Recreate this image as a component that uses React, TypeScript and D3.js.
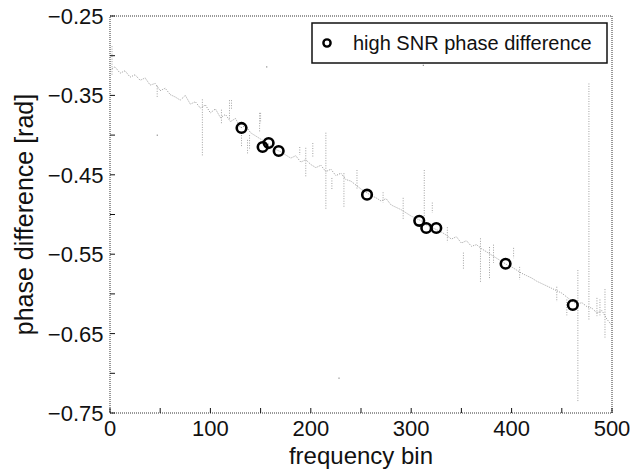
import * as d3 from 'd3'
import { useMemo } from 'react'

// base phase-difference trace, one value every 5 frequency bins (0..500)
const traceBins = d3.range(0, 501, 5)
const traceValues = [
  -0.318, -0.314, -0.322, -0.319, -0.327, -0.324, -0.331, -0.328, -0.337, -0.335,
  -0.344, -0.341, -0.349, -0.352, -0.356, -0.350, -0.361, -0.358, -0.366, -0.362,
  -0.372, -0.367, -0.378, -0.374, -0.383, -0.379, -0.391, -0.388, -0.397, -0.401,
  -0.405, -0.409, -0.413, -0.418, -0.421, -0.425, -0.429, -0.426, -0.434, -0.431,
  -0.437, -0.441, -0.438, -0.446, -0.443, -0.451, -0.448, -0.456, -0.458, -0.463,
  -0.468, -0.472, -0.476, -0.479, -0.483, -0.480, -0.488, -0.491, -0.494, -0.498,
  -0.502, -0.505, -0.508, -0.513, -0.516, -0.519, -0.522, -0.526, -0.531, -0.528,
  -0.536, -0.533, -0.540, -0.538, -0.543, -0.547, -0.551, -0.555, -0.559, -0.563,
  -0.566, -0.570, -0.574, -0.577, -0.580, -0.584, -0.587, -0.590, -0.593, -0.596,
  -0.599, -0.604, -0.609, -0.613, -0.611, -0.616, -0.618, -0.624, -0.621, -0.632,
  -0.640,
]

// noisy single-bin excursions: bin, upper value, lower value
const spikeBins = [2, 47, 92, 111, 119, 121, 131, 137, 139, 149, 150, 189, 195, 202, 215, 221, 233, 246, 272, 292, 313, 321, 336, 352, 369, 378, 382, 402, 408, 445, 455, 466, 477, 485, 488, 493]
const spikeHigh = [-0.288, -0.338, -0.355, -0.368, -0.356, -0.356, -0.400, -0.406, -0.400, -0.372, -0.372, -0.415, -0.416, -0.410, -0.397, -0.454, -0.448, -0.444, -0.472, -0.479, -0.444, -0.485, -0.516, -0.548, -0.530, -0.541, -0.538, -0.542, -0.566, -0.591, -0.607, -0.570, -0.335, -0.605, -0.607, -0.594]
const spikeLow = [-0.325, -0.352, -0.427, -0.385, -0.381, -0.368, -0.415, -0.423, -0.419, -0.397, -0.385, -0.425, -0.453, -0.428, -0.494, -0.469, -0.492, -0.469, -0.485, -0.507, -0.514, -0.498, -0.535, -0.570, -0.586, -0.582, -0.561, -0.555, -0.582, -0.610, -0.627, -0.736, -0.633, -0.628, -0.627, -0.655]

// stray isolated samples
const strayBins = [47, 156, 228, 312]
const strayValues = [-0.4, -0.314, -0.706, -0.312]

// high SNR bins
const snrBins = [131, 152, 158, 168, 256, 308, 315, 325, 394, 461]
const snrValues = [-0.391, -0.415, -0.41, -0.42, -0.475, -0.508, -0.517, -0.517, -0.562, -0.614]

const xTickValues = d3.range(0, 501, 50)
const yTickValues = d3.range(-0.75, -0.2499, 0.05)
const legendLabel = 'high SNR phase difference'

const W = 644
const H = 474
const left = 110
const right = 612
const top = 16
const bottom = 413
const font = '"Liberation Sans", Arial, sans-serif'

export default function App() {
  const { x, y, tracePath } = useMemo(() => {
    const x = d3.scaleLinear().domain([0, 500]).range([left, right])
    const y = d3.scaleLinear().domain([-0.75, -0.25]).range([bottom, top])
    const line = d3
      .line<number>()
      .x((_, i) => x(traceBins[i]))
      .y(d => y(d))
    return { x, y, tracePath: line(traceValues) }
  }, [])

  const fmt = d3.format('.2f')

  return (
    <svg
      width={W}
      height={H}
      style={{ position: 'fixed', left: 0, top: 0, background: '#fff' }}
      fontFamily={font}
    >
      {/* noisy trace */}
      <path
        d={tracePath ?? ''}
        fill="none"
        stroke="#999"
        strokeWidth={1}
        strokeDasharray="1 1.3"
      />
      {spikeBins.map((b, i) => (
        <line
          key={'s' + i}
          x1={x(b)}
          x2={x(b)}
          y1={y(spikeHigh[i])}
          y2={y(spikeLow[i])}
          stroke="#a0a0a0"
          strokeWidth={1}
          strokeDasharray="1 1.5"
        />
      ))}
      {strayBins.map((b, i) => (
        <rect key={'d' + i} x={x(b) - 0.5} y={y(strayValues[i]) - 0.5} width={1.2} height={1.2} fill="#888" />
      ))}

      {/* frame */}
      <rect
        x={left}
        y={top}
        width={right - left}
        height={bottom - top}
        fill="none"
        stroke="#333"
        strokeWidth={1}
        strokeDasharray="1 1"
      />

      {/* x axis */}
      {xTickValues.map(v => (
        <g key={'x' + v}>
          <line x1={x(v)} x2={x(v)} y1={bottom} y2={bottom - 5} stroke="#111" strokeWidth={1} />
          {v % 100 === 0 && (
            <text x={x(v)} y={436} textAnchor="middle" fontSize={22} fill="#111">
              {v}
            </text>
          )}
        </g>
      ))}

      {/* y axis */}
      {yTickValues.map((v, i) => (
        <g key={'y' + i}>
          <line x1={left} x2={left + 5} y1={y(v)} y2={y(v)} stroke="#111" strokeWidth={1} />
          {i % 2 === 0 && (
            <text x={103.5} y={y(v) + 8} textAnchor="end" fontSize={22} fill="#111">
              {fmt(v)}
            </text>
          )}
        </g>
      ))}

      {/* high SNR markers */}
      {snrBins.map((b, i) => (
        <circle key={'c' + i} cx={x(b)} cy={y(snrValues[i])} r={4.8} fill="none" stroke="#000" strokeWidth={2.6} />
      ))}

      {/* legend */}
      <rect x={312} y={23} width={295} height={40} fill="#fff" stroke="#111" strokeWidth={1.5} />
      <circle cx={327} cy={43} r={3.6} fill="none" stroke="#000" strokeWidth={2.4} />
      <text x={353} y={50} fontSize={20} fill="#111">
        {legendLabel}
      </text>

      {/* axis titles */}
      <text x={(left + right) / 2} y={464} textAnchor="middle" fontSize={24} fill="#111">
        frequency bin
      </text>
      <text
        transform={`translate(33,${(top + bottom) / 2}) rotate(-90)`}
        textAnchor="middle"
        fontSize={25}
        fill="#111"
      >
        phase difference [rad]
      </text>
    </svg>
  )
}
